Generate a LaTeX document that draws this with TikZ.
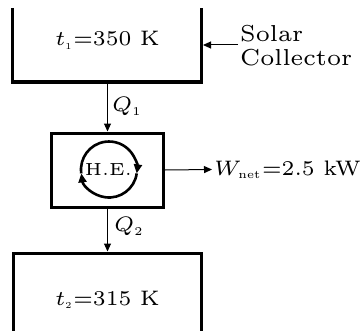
\documentclass[tikz,border=0pt]{standalone}
\usepackage{graphicx}
\usetikzlibrary{arrows.meta}
\newcommand\bigtxt[2]{\scalebox{3.5}{\fontsize{#1}{6.86}\selectfont #2}}
\newcommand\subtxt[2]{\hbox{\fontsize{#1}{#1}\selectfont #2}}
\tikzset{
  wall/.style={line width=3pt},
  flow/.style={line width=1pt,-{Triangle[length=8pt,width=7pt]}},
  cyc/.style={line width=2.6pt,-{Triangle[length=9pt,width=8pt]}},
  lbl/.style={inner sep=0pt},
}
\begin{document}
\begin{tikzpicture}[x=1pt,y=1pt]
\useasboundingbox (0,0) rectangle (361,330);
% hot reservoir (open top)
\coordinate (hotTL) at (12.5,322);
\coordinate (hotBL) at (12.5,248);
\coordinate (hotBR) at (201.5,248);
\coordinate (hotTR) at (201.5,322);
\draw[wall] (hotTL) -- (hotBL) -- (hotBR) -- (hotTR);
\node[lbl,anchor=base] (t1) at (107.5,284.3) {\bigtxt{6}{$t_{\subtxt{2.6}{1}}$=350 K}};
% solar collector
\coordinate (solS) at (238,285);
\coordinate (solE) at (203,285);
\draw[flow] (solS) -- (solE);
\node[lbl,anchor=base west] (sol) at (240,264.3) {\scalebox{3.85}{\fontsize{6}{6.2}\selectfont\begin{tabular}[b]{@{}l@{}}Solar\\Collector\end{tabular}}};
% heat engine
\node[draw,wall,minimum width=112pt,minimum height=74pt,inner sep=0pt] (he) at (107.5,160) {};
\node[lbl] (hetxt) at (108.5,160.5) {\bigtxt{5}{H.E.}};
\coordinate (cc) at (109,160.5);
\draw[cyc] (cc) ++(188:28) arc[start angle=188,end angle=-8,radius=28];
\draw[cyc] (cc) ++(-8:28) arc[start angle=-8,end angle=-172,radius=28];
% Q1
\coordinate (q1s) at (107.5,248);
\draw[flow] (q1s) -- (he.north);
\node[lbl,anchor=base west] (q1) at (112,218.3) {\bigtxt{6}{$Q_{\subtxt{3.4}{1}}$}};
% cold reservoir (open bottom)
\coordinate (coldTL) at (13.5,77);
\coordinate (coldBL) at (13.5,-3);
\coordinate (coldTR) at (201.5,77);
\coordinate (coldBR) at (201.5,-3);
\draw[wall] (coldBL) -- (coldTL) -- (coldTR) -- (coldBR);
\coordinate (coldin) at (107.5,78.5);
\draw[flow] (he.south) -- (coldin);
\node[lbl,anchor=base west] (q2) at (114,98.3) {\bigtxt{6}{$Q_{\subtxt{3.4}{2}}$}};
\node[lbl,anchor=base] (t2) at (107.5,25) {\bigtxt{6}{$t_{\subtxt{2.6}{2}}$=315 K}};
% work
\coordinate (wend) at (212,160.5);
\draw[flow] (he.east) -- (wend);
\node[lbl,anchor=base west] (w) at (214,155) {\bigtxt{6}{$W_{\subtxt{3.3}{net}}$=2.5 kW}};
\end{tikzpicture}
\end{document}
